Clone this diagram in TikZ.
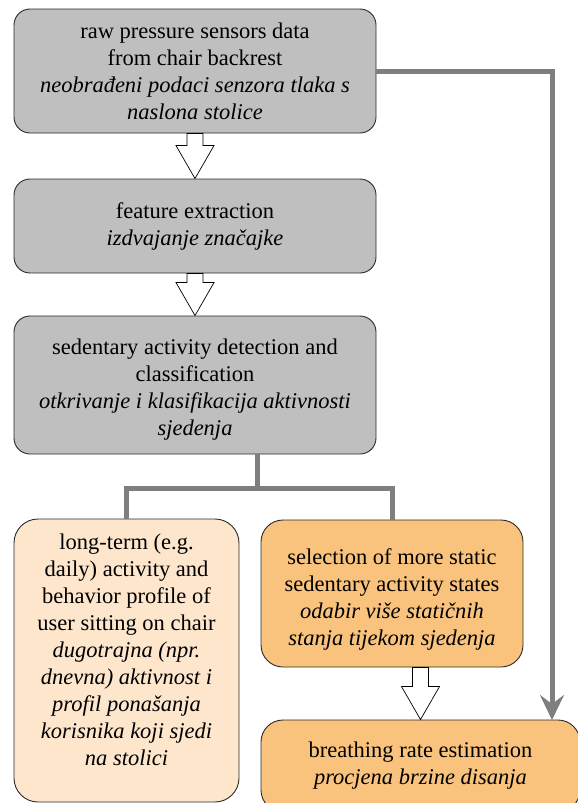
\documentclass[tikz,border=0pt]{standalone}
\usepackage{fontspec}
\setmainfont{Liberation Serif}
\usetikzlibrary{calc,arrows.meta}
\definecolor{boxgray}{HTML}{BFBFBF}
\definecolor{peach}{HTML}{FDE6CC}
\definecolor{orangebox}{HTML}{F9C37E}
\definecolor{linegray}{HTML}{7F7F7F}
\definecolor{edge}{HTML}{2B2B2B}
\tikzset{
  basebox/.style={draw=edge, line width=0.9pt, align=center, inner sep=0pt,
    font=\fontsize{22.5}{27}\selectfont},
  graybox/.style={basebox, fill=boxgray, rounded corners=16pt},
  peachbox/.style={basebox, fill=peach, rounded corners=24pt},
  orangebx/.style={basebox, fill=orangebox, rounded corners=22pt},
  hollow/.style={draw=black, fill=white, line width=0.7pt, line join=miter},
  grayline/.style={draw=linegray, line width=5pt, line join=miter},
}
\newcommand{\hollowarrow}[2]{%
  \draw[hollow] ($(#2.north |- #1.south)+(-8,0)$) -- ($(#2.north)+(-8,-33)$)
    -- ($(#2.north)+(-19,-33)$) -- (#2.north) -- ($(#2.north)+(19,-33)$)
    -- ($(#2.north)+(8,-33)$) -- ($(#2.north |- #1.south)+(8,0)$) -- cycle;}
\begin{document}
\begin{tikzpicture}[x=1pt,y=-1pt]
\useasboundingbox (0,0) rectangle (578,803);
\node[graybox, minimum width=362pt, minimum height=124pt] (b1) at (195,71)
  {raw pressure sensors data\\ from chair backrest\\
   \textit{neobrađeni podaci senzora tlaka s}\\ \textit{naslona stolice}};
\node[graybox, minimum width=362pt, minimum height=94pt] (b2) at (195,226)
  {feature extraction\\ \textit{izdvajanje značajke}};
\node[graybox, minimum width=362pt, minimum height=138pt] (b3) at (195,385)
  {\rule{0pt}{24pt}sedentary activity detection and\\ classification\\
   \textit{otkrivanje i klasifikacija aktivnosti}\\ \textit{sjedenja}};
\node[peachbox, minimum width=225pt, minimum height=283pt] (lb) at (126.5,660.5)
  {long-term (e.g.\\ daily) activity and\\ behavior profile of\\ user sitting on chair\\
   \textit{dugotrajna (npr.}\\ \textit{dnevna) aktivnost i}\\ \textit{profil ponašanja}\\
   \textit{korisnika koji sjedi}\\ \textit{na stolici}\rule[-22pt]{0pt}{0pt}};
\node[orangebx, minimum width=262pt, minimum height=147pt] (rb) at (392,593.5)
  {\rule{0pt}{27pt}selection of more static\\ sedentary activity states\\
   \textit{odabir više statičnih}\\ \textit{stanja tijekom sjedenja}};
\node[orangebx, minimum width=319pt, minimum height=92pt] (br) at (420.5,766)
  {breathing rate estimation\\ \textit{procjena brzine disanja}};
\coordinate (j) at (257,488);
\coordinate (g) at (552,720);
\hollowarrow{b1}{b2}
\hollowarrow{b2}{b3}
\hollowarrow{rb}{br}
\draw[grayline] (j |- b3.south) -- (j);
\draw[grayline] (lb.north) |- (j) -| (rb.north);
\draw[grayline, -{Stealth[length=25pt,width=24pt,inset=9pt]}] (b1.east) -| (g);
\end{tikzpicture}
\end{document}
